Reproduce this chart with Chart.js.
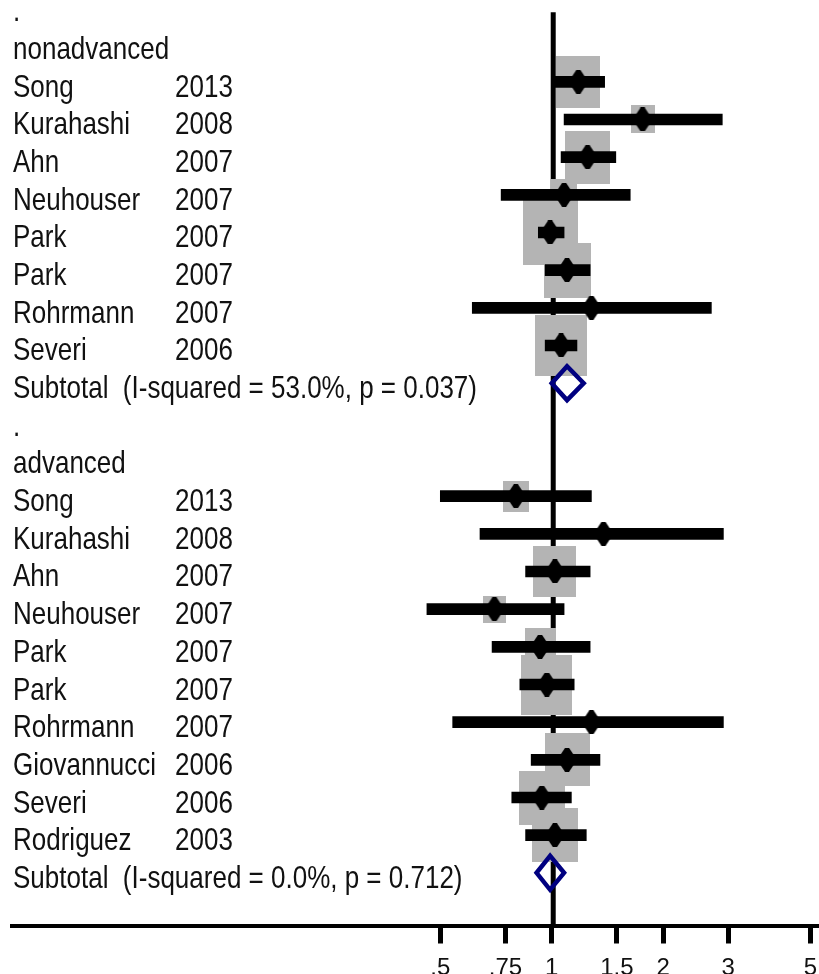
<!DOCTYPE html>
<html>
<head>
<meta charset="utf-8">
<title>Forest plot</title>
<style>
  html, body { margin: 0; padding: 0; background: #fff; overflow: hidden; }
  canvas { display: block; }
</style>
<script src="https://cdn.jsdelivr.net/npm/chart.js@4.4.1/dist/chart.umd.min.js"></script>
</head>
<body>
<canvas id="forest" width="819" height="984"></canvas>
<script>
// ---- Study estimates (relative risk with 95% CI and % weight) ----
const nonAdvStudies = ['Song', 'Kurahashi', 'Ahn', 'Neuhouser', 'Park', 'Park', 'Rohrmann', 'Severi'];
const nonAdvYears   = ['2013', '2008', '2007', '2007', '2007', '2007', '2007', '2006'];
const nonAdvRR      = [1.18, 1.76, 1.25, 1.08, 0.99, 1.10, 1.28, 1.06];
const nonAdvLower   = [1.01, 1.08, 1.06, 0.73, 0.92, 0.96, 0.61, 0.96];
const nonAdvUpper   = [1.39, 2.89, 1.49, 1.63, 1.08, 1.27, 2.70, 1.17];
const nonAdvWeight  = [14.6, 4.3, 15.2, 5.1, 22.8, 16.6, 0.5, 20.3];
const nonAdvPooled  = [1.10, 1.00, 1.22];          // estimate, lower, upper
const nonAdvLabel   = 'Subtotal  (I-squared = 53.0%, p = 0.037)';

const advStudies = ['Song', 'Kurahashi', 'Ahn', 'Neuhouser', 'Park', 'Park', 'Rohrmann', 'Giovannucci', 'Severi', 'Rodriguez'];
const advYears   = ['2013', '2008', '2007', '2007', '2007', '2007', '2007', '2006', '2006', '2003'];
const advRR      = [0.80, 1.38, 1.02, 0.70, 0.93, 0.97, 1.28, 1.10, 0.94, 1.02];
const advLower   = [0.50, 0.64, 0.85, 0.46, 0.69, 0.82, 0.54, 0.88, 0.78, 0.85];
const advUpper   = [1.28, 2.91, 1.27, 1.08, 1.27, 1.15, 2.91, 1.35, 1.13, 1.24];
const advWeight  = [5.0, 0.5, 14.3, 3.9, 7.1, 20.0, 0.5, 15.0, 16.3, 16.3];
const advPooled  = [0.99, 0.91, 1.08];
const advLabel   = 'Subtotal  (I-squared = 0.0%, p = 0.712)';

const groupNames = ['nonadvanced', 'advanced'];

// ---- Axis ticks ----
const tickValues = [0.5, 0.75, 1, 1.5, 2, 3, 5];
const tickLabels = ['.5', '.75', '1', '1.5', '2', '3', '5'];

// ---- Styling constants ----
const FONT = '"Liberation Sans", Arial, sans-serif';
const TEXT_SIZE = 26;
const TEXT_STRETCH = 1.22;
const BOX_SCALE = 11.5;       // px per sqrt(% weight)
const BOX_ASPECT = 1.18;
const DIAMOND_HALF = 0.45;    // half height of pooled diamond, in rows
const AXIS_Y = 925.5;         // pixel row of the x axis line

// ---- Build rows ----
const groups = [
  { name: groupNames[0], studies: nonAdvStudies, years: nonAdvYears, rr: nonAdvRR, lo: nonAdvLower, hi: nonAdvUpper, w: nonAdvWeight, pooled: nonAdvPooled, label: nonAdvLabel },
  { name: groupNames[1], studies: advStudies, years: advYears, rr: advRR, lo: advLower, hi: advUpper, w: advWeight, pooled: advPooled, label: advLabel }
];

const textRows = [];
const pointData = [];
const boxWeights = [];
const ciData = [];
const diamondSets = [];
let row = 0;
groups.forEach(g => {
  textRows.push({ row: row++, name: '.' });
  textRows.push({ row: row++, name: g.name });
  g.studies.forEach((s, i) => {
    textRows.push({ row: row, name: s, year: g.years[i] });
    pointData.push({ x: g.rr[i], y: row });
    boxWeights.push(g.w[i]);
    ciData.push({ x: [g.lo[i], g.hi[i]], y: row });
    row++;
  });
  textRows.push({ row: row, name: g.label });
  const [est, lo, hi] = g.pooled;
  diamondSets.push([
    { x: lo, y: row }, { x: est, y: row - DIAMOND_HALF }, { x: hi, y: row },
    { x: est, y: row + DIAMOND_HALF }, { x: lo, y: row }, { x: est, y: row - DIAMOND_HALF }
  ]);
  row++;
});

// ---- Marker images ----
function makePointMarker(w, h) {
  const c = document.createElement('canvas');
  c.width = w; c.height = h;
  const g = c.getContext('2d');
  g.fillStyle = '#000';
  g.beginPath();
  g.moveTo(6, 0); g.lineTo(w - 6, 0); g.lineTo(w, 9); g.lineTo(w, h - 9);
  g.lineTo(w - 6, h); g.lineTo(6, h); g.lineTo(0, h - 9); g.lineTo(0, 9);
  g.closePath(); g.fill();
  return c;
}
const pointMarker = makePointMarker(16, 24);

const boxCache = {};
function boxMarker(weight) {
  if (boxCache[weight]) return boxCache[weight];
  const w = Math.max(1, Math.round(BOX_SCALE * Math.sqrt(weight)));
  const h = Math.max(1, Math.round(w * BOX_ASPECT));
  const c = document.createElement('canvas');
  c.width = w; c.height = h;
  const g = c.getContext('2d');
  g.fillStyle = '#b4b4b4';
  g.fillRect(0, 0, w, h);
  boxCache[weight] = c;
  return c;
}

// ---- Plugins: reference line and row labels ----
const nullLine = {
  id: 'nullLine',
  beforeDatasetsDraw(chart) {
    const xs = chart.scales.x, ys = chart.scales.y;
    const ctx = chart.ctx;
    const px = xs.getPixelForValue(1) + 1.5;
    ctx.save();
    ctx.strokeStyle = '#000';
    ctx.lineWidth = 5;
    ctx.beginPath();
    ctx.moveTo(px, ys.getPixelForValue(0.15));
    ctx.lineTo(px, chart.chartArea.bottom);
    ctx.stroke();
    ctx.restore();
  }
};

const rowText = {
  id: 'rowText',
  afterDraw(chart) {
    const ys = chart.scales.y;
    const ctx = chart.ctx;
    ctx.save();
    ctx.fillStyle = '#111';
    ctx.font = TEXT_SIZE + 'px ' + FONT;
    ctx.textBaseline = 'alphabetic';
    ctx.textAlign = 'left';
    const put = (txt, x, y) => {
      ctx.save();
      ctx.translate(x, y);
      ctx.scale(1, TEXT_STRETCH);
      ctx.fillText(txt, 0, 0);
      ctx.restore();
    };
    textRows.forEach(t => {
      const y = ys.getPixelForValue(t.row) + 15;
      put(t.name, 13, y);
      if (t.year) put(t.year, 175, y);
    });
    ctx.restore();
  }
};

const canvas = document.getElementById('forest');

new Chart(canvas, {
  data: {
    datasets: [
      {
        type: 'line', label: 'pooled nonadvanced', data: diamondSets[0], order: 1,
        showLine: true, borderColor: '#000080', borderWidth: 4.5, pointRadius: 0,
        fill: false, tension: 0, borderJoinStyle: 'miter', backgroundColor: '#fff'
      },
      {
        type: 'line', label: 'pooled advanced', data: diamondSets[1], order: 1,
        showLine: true, borderColor: '#000080', borderWidth: 4.5, pointRadius: 0,
        fill: false, tension: 0, borderJoinStyle: 'miter', backgroundColor: '#fff'
      },
      {
        type: 'scatter', label: 'estimate', data: pointData, order: 2,
        pointStyle: pointMarker, pointRadius: 1, pointHoverRadius: 1
      },
      {
        type: 'bar', label: '95% CI', data: ciData, order: 3, indexAxis: 'y',
        backgroundColor: '#000', barThickness: 11, grouped: false, borderWidth: 0
      },
      {
        type: 'scatter', label: 'weight', data: pointData, order: 4,
        pointStyle: ctx => boxMarker(boxWeights[ctx.dataIndex]),
        pointRadius: 1, pointHoverRadius: 1
      }
    ]
  },
  options: {
    responsive: false,
    animation: false,
    devicePixelRatio: 1,
    layout: { padding: { left: 12, right: 0, top: 0, bottom: 0 } },
    plugins: { legend: { display: false }, tooltip: { enabled: false } },
    events: [],
    scales: {
      x: {
        type: 'logarithmic',
        min: 0.0348,
        max: 5.21,
        offset: false,
        afterBuildTicks: scale => { scale.ticks = tickValues.map(v => ({ value: v })); },
        afterFit: scale => {
          scale.height = canvas.height - AXIS_Y;
          scale.paddingLeft = 0;
          scale.paddingRight = 0;
        },
        ticks: {
          autoSkip: false, maxRotation: 0, padding: 10,
          color: '#111',
          font: { family: FONT, size: 24 },
          callback: (value) => {
            const i = tickValues.indexOf(value);
            return i >= 0 ? tickLabels[i] : '';
          }
        },
        grid: { display: true, offset: false, drawOnChartArea: false, drawTicks: true, tickLength: 18, lineWidth: 5, color: '#000' },
        border: { display: true, color: '#000', width: 4 }
      },
      y: {
        type: 'linear',
        reverse: true,
        offset: false,
        min: -0.119,
        max: 24.398,
        display: false,
        grid: { offset: false }
      }
    }
  },
  plugins: [nullLine, rowText]
});
</script>
</body>
</html>
